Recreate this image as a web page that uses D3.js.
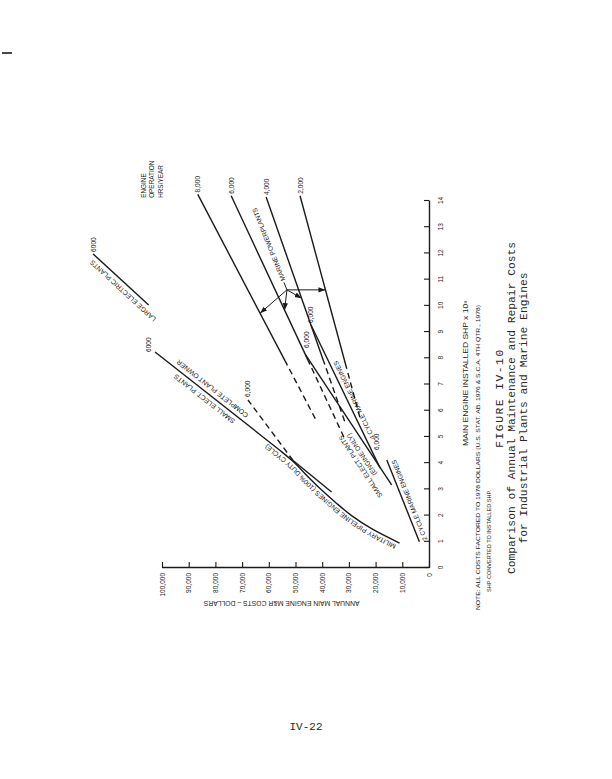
<!DOCTYPE html>
<html><head><meta charset="utf-8">
<script src="https://cdn.jsdelivr.net/npm/d3@7"></script>
<style>
body{margin:0;background:#fff;}
svg{display:block;}
</style></head>
<body>
<svg id="chart" width="612" height="779"></svg>
<script>
// ---------------- DATA ----------------
const shpTicks = d3.range(0, 15);                       // SHP x 10^3
const costTicks = d3.range(0, 100001, 10000);           // dollars
const hoursLabels = ["8,000", "6,000", "4,000", "2,000"];

// Marine powerplants (engine operation hrs/year) : [SHP x1000, $]
const marine8000Solid  = [[7.9, 53900], [14.25, 86600]];
const marine8000Dashed = [[5.7, 42600], [7.9, 53900]];
const marine6000Solid  = [[7.9, 45200], [14.2, 74100]];
const marine6000Dashed = [[5.0, 31900], [7.9, 45200]];
const marine4000Solid  = [[7.9, 39500], [14.15, 61000]];
const marine4000Dashed = [[5.6, 31600], [7.9, 39500]];
const marine2000Solid  = [[7.6, 30800], [14.2, 48300]];
const marine2000Dashed = [[5.75, 25900], [7.6, 30800]];

const fourCycleMarine   = [[3.82, 18350], [9.27, 44200]];   // 6,000 hrs
const smallElectEngine  = [[3.17, 14000], [8.13, 46200]];   // 6,000 hrs
const twoCycleMarine    = [[1.0, 3600], [4.12, 15800]];     // 6,000 hrs

const militaryPipeline = [[0.95, 11000], [1.5, 21500], [2.0, 29000], [2.5, 35000],
                          [3.0, 40500], [3.5, 45500], [4.0, 50200], [4.5, 56000], [5.0, 62200]];
const smallElectOwner  = [[5.0, 62200], [8.24, 102600]];    // complete plant owner, 6000 hrs
const smallElect6000Solid  = [[2.9, 36500], [4.1, 50900]];
const smallElect6000Dashed = [[4.1, 50900], [6.41, 67800]];
const largeElectric    = [[10.03, 105000], [11.98, 125800]]; // 6000 hrs

const marineJunction = [10.61, 53200];
const marineArrowShp = [9.72, 9.84, 10.29, 10.61];   // where arrows meet 8000/6000/4000/2000

// ---------------- SETUP ----------------
const svg = d3.select("#chart");
const W = 367, H = 267;
const x = d3.scaleLinear().domain([0, 14]).range([0, W]);
const y = d3.scaleLinear().domain([0, 100000]).range([H, 0]);
const INK = "#1a1a1a";
const SANS = "'Liberation Sans', Arial, sans-serif";
const MONO = "'Liberation Mono', 'DejaVu Sans Mono', monospace";

svg.append("rect").attr("width", 612).attr("height", 779).attr("fill", "#fff");

const defs = svg.append("defs");
defs.append("marker").attr("id", "arr").attr("viewBox", "0 -3 7 6")
  .attr("refX", 7).attr("refY", 0).attr("markerWidth", 7).attr("markerHeight", 6)
  .attr("markerUnits", "userSpaceOnUse").attr("orient", "auto")
  .append("path").attr("d", "M0,-2.6L7,0L0,2.6Z").attr("fill", INK);

// chart drawn in its own frame, then turned a quarter turn on the page
const g = svg.append("g").attr("transform", "translate(162,568) rotate(-90)");

// ---------------- AXES ----------------
const xAxis = d3.axisBottom(x).tickValues(shpTicks).tickSizeInner(-5).tickSizeOuter(0)
  .tickPadding(9).tickFormat(d3.format("d"));
const gx = g.append("g").attr("transform", `translate(0,${H})`).call(xAxis);
const yAxis = d3.axisLeft(y).tickValues(costTicks).tickSizeInner(-6).tickSizeOuter(0)
  .tickPadding(5).tickFormat(d3.format(","));
const gy = g.append("g").call(yAxis);
[gx, gy].forEach(a => {
  a.select(".domain").attr("stroke", INK).attr("stroke-width", 1.4);
  a.selectAll(".tick line").attr("stroke", INK).attr("stroke-width", 1.1);
  a.selectAll(".tick text").attr("fill", INK).style("font-family", SANS).style("font-size", "6.5px");
});

// axis titles
g.append("text").attr("x", x(7.42)).attr("y", H + 36)
  .attr("text-anchor", "middle").attr("dominant-baseline", "central")
  .attr("textLength", 145).attr("lengthAdjust", "spacingAndGlyphs")
  .style("font-family", SANS).style("font-size", "6.6px").attr("fill", INK)
  .text("MAIN ENGINE INSTALLED SHP x 10³");
g.append("text").attr("transform", `translate(-35,${y(55200)}) rotate(-90)`)
  .attr("text-anchor", "middle").attr("dominant-baseline", "central")
  .style("font-family", SANS).style("font-size", "6.8px").attr("fill", INK)
  .text("ANNUAL MAIN ENGINE M&R COSTS – DOLLARS");

// note
g.append("text").attr("x", -42).attr("y", 316).attr("dominant-baseline", "central")
  .attr("textLength", 305).attr("lengthAdjust", "spacingAndGlyphs")
  .style("font-family", SANS).style("font-size", "5.8px").attr("fill", INK)
  .text("NOTE: ALL COSTS FACTORED TO 1978 DOLLARS (U.S. STAT. AB. 1976 & S.C.A. 4TH QTR., 1978)");
g.append("text").attr("x", -24).attr("y", 327).attr("dominant-baseline", "central")
  .attr("textLength", 102).attr("lengthAdjust", "spacingAndGlyphs")
  .style("font-family", SANS).style("font-size", "5.8px").attr("fill", INK)
  .text("SHP CONVERTED TO INSTALLED SHP.");

// caption
const cap = [["FIGURE IV-10", 170, 338, 1.5], ["Comparison of Annual Maintenance and Repair Costs", 160, 350, 0],
             ["for Industrial Plants and Marine Engines", 160, 362, 0]];
cap.forEach(c => g.append("text").attr("x", c[1]).attr("y", c[2])
  .attr("text-anchor", "middle").attr("dominant-baseline", "central")
  .style("letter-spacing", c[3] + "px")
  .style("font-family", MONO).style("font-size", "11.3px").attr("fill", "#2a2a2a").text(c[0]));

// ---------------- LINES ----------------
const lineLin = d3.line().x(d => x(d[0])).y(d => y(d[1]));
const lineCurve = d3.line().x(d => x(d[0])).y(d => y(d[1])).curve(d3.curveMonotoneX);
function draw(pts, dashed, id, curve) {
  const p = g.append("path")
    .attr("d", curve ? lineCurve(pts) : lineLin(pts))
    .attr("fill", "none").attr("stroke", INK).attr("stroke-width", 1.4);
  if (dashed) p.attr("stroke-dasharray", "6,4");
  if (id) p.attr("id", id);
  return p;
}
const marineSolid = [marine8000Solid, marine6000Solid, marine4000Solid, marine2000Solid];
const marineDashed = [marine8000Dashed, marine6000Dashed, marine4000Dashed, marine2000Dashed];
marineSolid.forEach(s => draw(s, false));
marineDashed.forEach(s => draw(s, true));
draw(fourCycleMarine, false);
draw(smallElectEngine, false);
draw(twoCycleMarine, false);
draw(militaryPipeline, false, "milCurve", true);
draw(smallElectOwner, false);
draw(smallElect6000Solid, false);
draw(smallElect6000Dashed, true);
draw(largeElectric, false);

// ---------------- HELPERS ----------------
function interp(pts, xv) {
  const s = pts.slice().sort((a, b) => a[0] - b[0]);
  for (let i = 0; i < s.length - 1; i++) {
    if (xv >= s[i][0] && xv <= s[i + 1][0]) {
      const t = (xv - s[i][0]) / (s[i + 1][0] - s[i][0]);
      return { v: s[i][1] + t * (s[i + 1][1] - s[i][1]), a: s[i], b: s[i + 1] };
    }
  }
  const n = s.length;
  return { v: s[n - 1][1], a: s[n - 2], b: s[n - 1] };
}
function angleAt(pts, xv) {
  const r = interp(pts, xv);
  return Math.atan2(y(r.b[1]) - y(r.a[1]), x(r.b[0]) - x(r.a[0])) * 180 / Math.PI;
}
function alongLabel(pts, xv, off, txt, size) {
  const r = interp(pts, xv);
  g.append("text")
    .attr("transform", `translate(${x(xv)},${y(r.v)}) rotate(${angleAt(pts, xv)})`)
    .attr("y", off).attr("text-anchor", "middle").attr("dominant-baseline", "central")
    .style("font-family", SANS).style("font-size", (size || 6.6) + "px").attr("fill", INK)
    .text(txt);
}
function endLabel(pt, dx, dy, txt) {
  g.append("text").attr("x", x(pt[0]) + dx).attr("y", y(pt[1]) + dy)
    .attr("dominant-baseline", "central")
    .style("font-family", SANS).style("font-size", "6.6px").attr("fill", INK).text(txt);
}
const topPt = s => s.reduce((m, p) => (p[0] > m[0] ? p : m));

// ---------------- LABELS ----------------
marineSolid.forEach((s, i) => endLabel(topPt(s), 2, 0, hoursLabels[i]));
g.append("g").selectAll("text").data(["ENGINE", "OPERATION", "HRS/YEAR"]).join("text")
  .attr("x", x(14.12)).attr("y", (d, i) => -18.5 + i * 8.3).attr("dominant-baseline", "central")
  .style("font-family", SANS).style("font-size", "6.4px").attr("fill", INK).text(d => d);

endLabel(topPt(largeElectric), 2, 0, "6000");
endLabel(topPt(smallElectOwner), 0, -7, "6000");
endLabel(topPt(smallElect6000Dashed), 3, 0, "6,000");
endLabel(topPt(fourCycleMarine), 2, 0, "6,000");
endLabel(topPt(smallElectEngine), 7, 1, "6,000");
endLabel(topPt(twoCycleMarine), 10, -10, "6,000");

alongLabel(largeElectric, 10.77, -7, "LARGE ELECTRIC PLANTS", 6.8);
alongLabel(smallElectOwner, 6.64, -6.5, "SMALL ELECT. PLANTS", 6.8);
alongLabel(smallElectOwner, 6.64, 6.5, "COMPLETE PLANT OWNER", 6.8);
alongLabel(twoCycleMarine, 2.5, 6, "2 CYCLE MARINE ENGINES", 6.6);
alongLabel(fourCycleMarine, 6.3, 6, "4 CYCLE MARINE ENGINES", 6.6);
alongLabel(smallElectEngine, 4.5, -8.5, "(ENGINE ONLY)", 6.6);
alongLabel(smallElectEngine, 4.2, -16, "SMALL ELECT. PLANTS", 6.6);

g.append("text").attr("dy", -2.8)
  .style("font-family", SANS).style("font-size", "6.8px").attr("fill", INK)
  .append("textPath").attr("href", "#milCurve").attr("startOffset", 2)
  .text("MILITARY PIPELINE ENGINES (100% DUTY CYCLE)");

// marine powerplants pointer
const jx = x(marineJunction[0]), jy = y(marineJunction[1]);
marineSolid.forEach((s, i) => {
  const xv = marineArrowShp[i];
  const tv = interp(s, xv).v;
  g.append("line").attr("x1", jx).attr("y1", jy).attr("x2", x(xv)).attr("y2", y(tv))
    .attr("stroke", INK).attr("stroke-width", 1).attr("marker-end", "url(#arr)");
});
const ang = -22, rad = ang * Math.PI / 180;
g.append("line").attr("x1", jx).attr("y1", jy)
  .attr("x2", jx + 8 * Math.cos(rad)).attr("y2", jy + 8 * Math.sin(rad))
  .attr("stroke", INK).attr("stroke-width", 1);
g.append("text")
  .attr("transform", `translate(${jx + 10 * Math.cos(rad)},${jy + 10 * Math.sin(rad)}) rotate(${ang})`)
  .attr("dominant-baseline", "central")
  .style("font-family", SANS).style("font-size", "6.6px").attr("fill", INK)
  .text("MARINE POWERPLANTS");

// ---------------- PAGE MARKS ----------------
svg.append("line").attr("x1", 2).attr("x2", 12).attr("y1", 53).attr("y2", 53)
  .attr("stroke", INK).attr("stroke-width", 1.6);
svg.append("text").attr("x", 306).attr("y", 727).attr("text-anchor", "middle")
  .attr("dominant-baseline", "central")
  .style("font-family", MONO).style("font-size", "11px").attr("fill", "#2a2a2a").text("IV-22");
</script>
</body></html>
